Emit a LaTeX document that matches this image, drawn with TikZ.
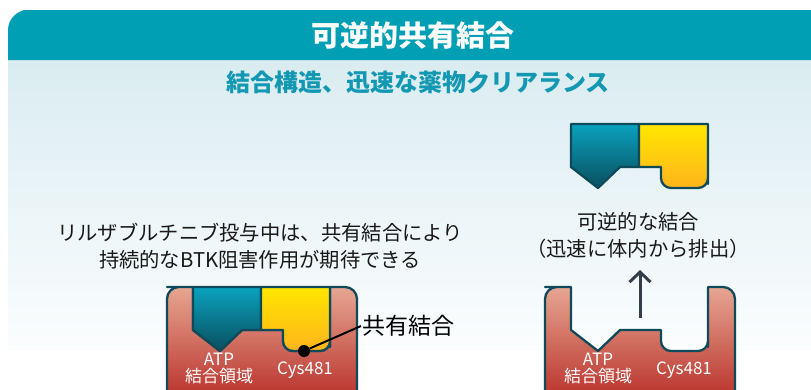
\documentclass[tikz,border=0pt]{standalone}
\usepackage{fontspec}
\usepackage{tikz}
\usetikzlibrary{arrows.meta}
\newfontfamily\jp{Noto Sans CJK JP}

\definecolor{hdr}{RGB}{0,159,180}
\definecolor{pnlTop}{RGB}{218,236,241}
\definecolor{pnlBot}{RGB}{251,253,254}
\definecolor{subtl}{RGB}{18,152,178}
\definecolor{edge}{RGB}{14,74,90}
\definecolor{protTop}{RGB}{230,166,146}
\definecolor{protBot}{RGB}{184,46,40}
\definecolor{drugTop}{RGB}{10,162,190}
\definecolor{drugBot}{RGB}{10,78,94}
\definecolor{warhTop}{RGB}{255,230,0}
\definecolor{warhBot}{RGB}{255,180,28}
\definecolor{arr}{RGB}{52,62,74}

% kinase with its pocket, #1 = left edge
\newcommand{\protein}[1]{%
\begin{scope}[shift={(#1,287)}]
\draw[prot] (0,50) [rounded corners=12pt] -- (0,0) -- (12,0) [sharp corners] -- (26,0) -- (26,43) -- (53,64) -- (75,43) -- (116,43) -- (116,50) [rounded corners=10pt] -- (116,64) -- (163,64) -- (163,50) [sharp corners] -- (163,0) -- (176,0) [rounded corners=12pt] -- (190,0) -- (190,115) -- (0,115) -- cycle;
\end{scope}}

% inhibitor, #1,#2 = top left corner
\newcommand{\inhibitor}[2]{%
\begin{scope}[shift={(#1,#2)}]
\draw[frame, top color=drugTop, bottom color=drugBot] (0,0) -- (0,43) -- (27,64) -- (49,43) -- (68,43) -- (68,0) -- cycle;
\draw[frame, top color=warhTop, bottom color=warhBot] (68,0) -- (68,43) -- (90,43) -- (90,50) [rounded corners=10pt] -- (90,64) -- (137,64) -- (137,50) [sharp corners] -- (137,0) -- cycle;
\end{scope}}

\begin{document}
\begin{tikzpicture}[x=1pt,y=-1pt,
  frame/.style={draw=edge, line width=2.3pt, line join=round},
  prot/.style={frame, top color=protTop, bottom color=protBot},
  lbl/.style={text=white, font=\jp\fontsize{17}{17}\selectfont, inner sep=0pt, align=center},
  note/.style={font=\jp\fontsize{20.3}{27}\selectfont, align=center, text=black!90}]
\useasboundingbox (0,0) rectangle (811,389);

\shade[top color=pnlTop, bottom color=pnlBot] (8,60) rectangle (811,350);
\fill[hdr] (8,40) [rounded corners=20pt] -- (8,10) -- (40,10) [sharp corners] -- (811,10) -- (811,60) -- (8,60) -- cycle;
\node[text=white, font=\jp\bfseries\fontsize{29}{30}\selectfont] (title) at (413,35) {可逆的共有結合};
\node[text=subtl, font=\jp\bfseries\fontsize{24}{26}\selectfont] (sub) at (418,82) {結合構造、迅速な薬物クリアランス};

\node[note] (left) at (260,246) {リルザブルチニブ投与中は、共有結合により\\持続的なBTK阻害作用が期待できる};
\node[note] (right) at (638,235) {可逆的な結合\\（迅速に体内から排出）};

\protein{167}
\inhibitor{193}{287}
\protein{545}
\inhibitor{571}{124}

\node[lbl] (atpL) at (219,368) {ATP\\結合領域};
\node[lbl] (cysL) at (305,370) {Cys481};
\node[lbl] (atpR) at (598,368) {ATP\\結合領域};
\node[lbl] (cysR) at (684,370) {Cys481};

\node[circle, fill=black, inner sep=0pt, minimum size=12pt] (bond) at (304,351) {};
\node[font=\jp\fontsize{23}{24}\selectfont, anchor=west, inner sep=1pt] (bondlbl) at (361,326) {共有結合};
\draw[line width=2pt] (bond) -- (bondlbl.west);

\coordinate (upFrom) at (640,318);
\coordinate (upTo) at (640,270);
\draw[arr, line width=3pt, -{Straight Barb[length=10pt, width=21pt]}] (upFrom) -- (upTo);
\end{tikzpicture}
\end{document}
